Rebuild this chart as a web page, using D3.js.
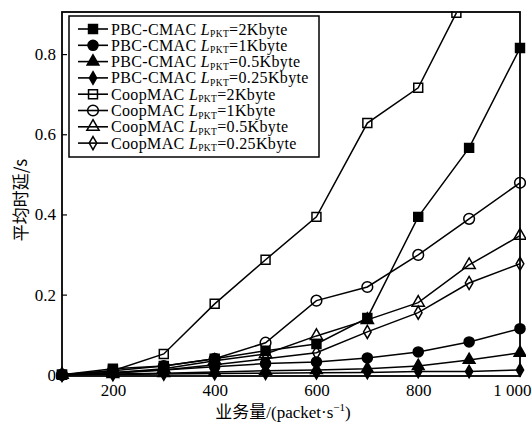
<!DOCTYPE html>
<html>
<head>
<meta charset="utf-8">
<script src="https://cdn.jsdelivr.net/npm/d3@7"></script>
<style>
  body { margin: 0; background: #fff; }
  text { font-family: "Liberation Serif", "Times New Roman", serif; fill: #000; }
</style>
</head>
<body>
<svg id="chart" width="532" height="424"></svg>
<script>
// traffic load (packet/s)
var trafficLoad = [100, 200, 300, 400, 500, 600, 700, 800, 900, 1000];
var coop2kLoad = [100, 200, 300, 400, 500, 600, 700, 800, 875];

// average delay (s)
var pbc2k   = [0, 0.015, 0.022, 0.04, 0.06, 0.077, 0.142, 0.394, 0.566, 0.815];
var pbc1k   = [0, 0.006, 0.012, 0.02, 0.028, 0.032, 0.042, 0.057, 0.082, 0.115];
var pbc05k  = [0, 0.002, 0.004, 0.007, 0.01, 0.012, 0.015, 0.022, 0.037, 0.055];
var pbc025k = [0, 0.001, 0.002, 0.003, 0.004, 0.005, 0.006, 0.008, 0.008, 0.012];
var coop2k   = [0, 0.01, 0.052, 0.177, 0.287, 0.394, 0.628, 0.716, 0.903];
var coop1k   = [0, 0.01, 0.022, 0.04, 0.08, 0.185, 0.219, 0.299, 0.389, 0.479];
var coop05k  = [0, 0.005, 0.015, 0.035, 0.052, 0.097, 0.137, 0.18, 0.274, 0.347];
var coop025k = [0, 0.004, 0.012, 0.025, 0.04, 0.055, 0.107, 0.155, 0.229, 0.277];

var seriesNames = ['PBC-CMAC', 'PBC-CMAC', 'PBC-CMAC', 'PBC-CMAC', 'CoopMAC', 'CoopMAC', 'CoopMAC', 'CoopMAC'];
var packetSizes = ['=2Kbyte', '=1Kbyte', '=0.5Kbyte', '=0.25Kbyte', '=2Kbyte', '=1Kbyte', '=0.5Kbyte', '=0.25Kbyte'];

var xTicks = [200, 400, 600, 800, 1000];
var yTicks = [0, 0.2, 0.4, 0.6, 0.8];

var series = [
    { x: trafficLoad, y: pbc2k,   shape: d3.symbolSquare,   size: 80, filled: true },
    { x: trafficLoad, y: pbc1k,   shape: d3.symbolCircle,   size: 80, filled: true },
    { x: trafficLoad, y: pbc05k,  shape: d3.symbolTriangle, size: 60, filled: true },
    { x: trafficLoad, y: pbc025k, shape: d3.symbolDiamond,  size: 45, filled: true },
    { x: coop2kLoad,  y: coop2k,   shape: d3.symbolSquare,   size: 80, filled: false },
    { x: trafficLoad, y: coop1k,   shape: d3.symbolCircle,   size: 90, filled: false },
    { x: trafficLoad, y: coop05k,  shape: d3.symbolTriangle, size: 65, filled: false },
    { x: trafficLoad, y: coop025k, shape: d3.symbolDiamond,  size: 50, filled: false }
];

var svg = d3.select('#chart');
var margin = { top: 12, right: 12, bottom: 48, left: 62 };
var width = 532 - margin.left - margin.right;
var height = 424 - margin.top - margin.bottom;

var x = d3.scaleLinear().domain([100, 1000]).range([0, width]);
var y = d3.scaleLinear().domain([-0.003, 0.905]).range([height, 0]);

var chart = svg.append('g')
    .attr('transform', 'translate(' + margin.left + ',' + margin.top + ')');

svg.append('defs').append('clipPath').attr('id', 'clip')
    .append('rect').attr('x', -6).attr('y', -1).attr('width', width + 12).attr('height', height + 8);

var plot = chart.append('g').attr('clip-path', 'url(#clip)');

var line = d3.line()
    .x(d => x(d[0]))
    .y(d => y(d[1]));

series.forEach(function(s) {
    var pts = s.x.map((v, i) => [v, s.y[i]]);
    plot.append('path')
        .datum(pts)
        .attr('fill', 'none')
        .attr('stroke', '#000')
        .attr('stroke-width', 1.5)
        .attr('d', line);
    plot.selectAll(null)
        .data(pts)
        .enter().append('path')
        .attr('transform', d => 'translate(' + x(d[0]) + ',' + y(d[1]) + ')')
        .attr('d', d3.symbol().type(s.shape).size(s.size))
        .attr('fill', s.filled ? '#000' : 'none')
        .attr('stroke', '#000')
        .attr('stroke-width', 1.5);
});

// frame
chart.append('rect')
    .attr('x', 0).attr('y', 0)
    .attr('width', width).attr('height', height)
    .attr('fill', 'none')
    .attr('stroke', '#000')
    .attr('stroke-width', 1.8);

// axes
var xAxis = chart.append('g')
    .attr('transform', 'translate(0,' + height + ')')
    .call(d3.axisBottom(x).tickValues(xTicks).tickSize(-5).tickPadding(8)
        .tickFormat(d => d === 1000 ? '1 000' : d));
xAxis.select('.domain').remove();
xAxis.selectAll('line').attr('stroke-width', 1.2);
xAxis.selectAll('text').style('font-size', '17px');
xAxis.selectAll('.tick').filter(d => d === 1000).select('text')
    .attr('text-anchor', 'end').attr('dx', 11);

var yAxis = chart.append('g')
    .call(d3.axisLeft(y).tickValues(yTicks).tickSize(-5).tickPadding(6)
        .tickFormat(d => d === 0 ? '0' : d3.format('.1f')(d)));
yAxis.select('.domain').remove();
yAxis.selectAll('line').attr('stroke-width', 1.2);
yAxis.selectAll('text').style('font-size', '17px');

// axis titles
svg.append('text')
    .attr('transform', 'translate(27,' + 200 + ') rotate(-90)')
    .attr('text-anchor', 'middle')
    .style('font-size', '17px')
    .style('font-family', '"Noto Sans CJK SC", serif')
    .text('平均时延/s');

var xt = svg.append('text')
    .attr('x', 283).attr('y', 418)
    .attr('text-anchor', 'middle')
    .style('font-size', '17px');
xt.append('tspan').style('font-family', '"Noto Sans CJK SC", serif').text('业务量');
xt.append('tspan').text('/(packet·s');
xt.append('tspan').attr('dy', -7).style('font-size', '11px').text('−1');
xt.append('tspan').attr('dy', 7).text(')');

// legend
var legend = chart.append('g').attr('transform', 'translate(7,4)');
legend.append('rect')
    .attr('width', 250).attr('height', 141)
    .attr('fill', '#fff')
    .attr('stroke', '#000')
    .attr('stroke-width', 1.5);

series.forEach(function(s, i) {
    var row = legend.append('g').attr('transform', 'translate(0,' + (13 + i * 16.3) + ')');
    row.append('line')
        .attr('x1', 9).attr('x2', 39)
        .attr('stroke', '#000').attr('stroke-width', 1.6);
    row.append('path')
        .attr('transform', 'translate(24,0)')
        .attr('d', d3.symbol().type(s.shape).size(s.size))
        .attr('fill', s.filled ? '#000' : 'none')
        .attr('stroke', '#000')
        .attr('stroke-width', 1.5);
    var t = row.append('text')
        .attr('x', 42).attr('y', 5.5)
        .style('font-size', '16px')
        .style('letter-spacing', '0.35px');
    t.append('tspan').text(seriesNames[i] + ' ');
    t.append('tspan').style('font-style', 'italic').text('L');
    t.append('tspan').attr('dy', 2.5).style('font-size', '9.5px').text('PKT');
    t.append('tspan').attr('dy', -2.5).text(packetSizes[i]);
});
</script>
</body>
</html>
